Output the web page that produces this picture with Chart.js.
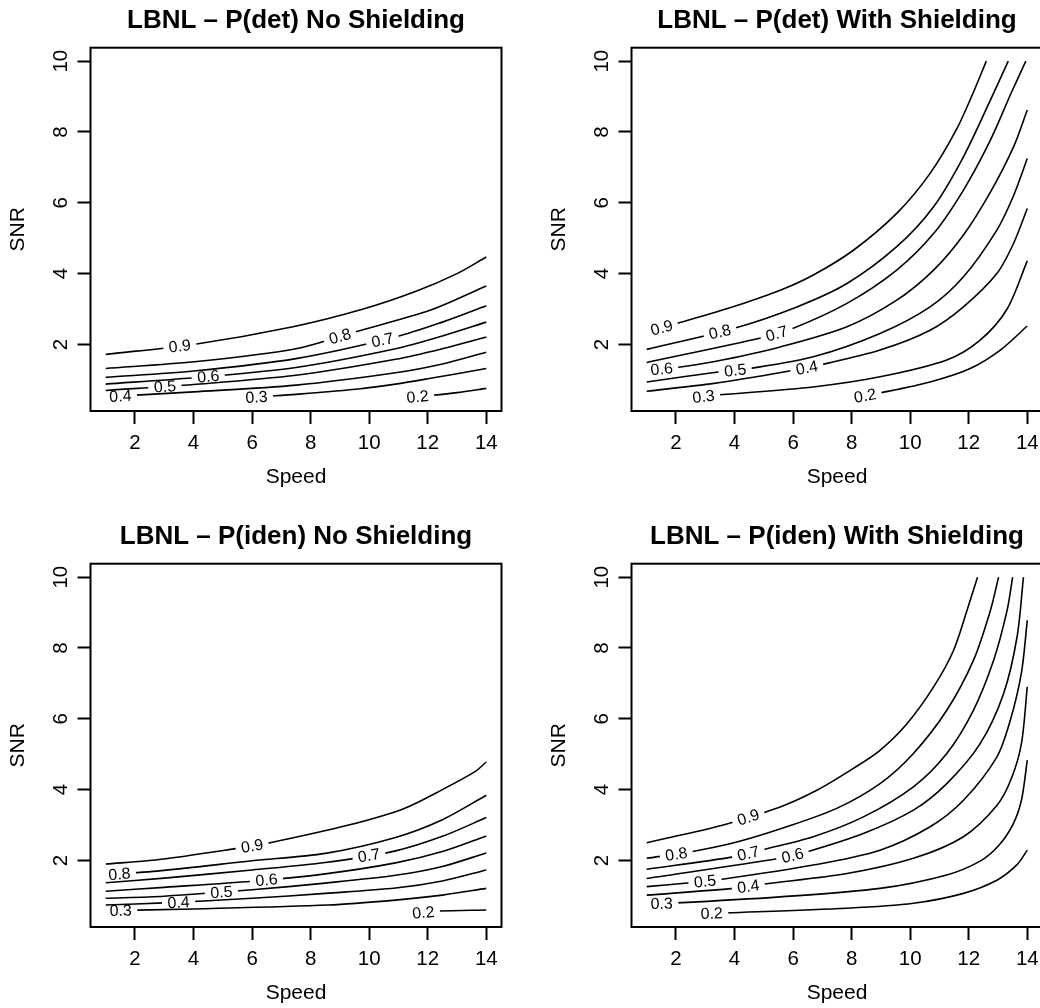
<!DOCTYPE html>
<html>
<head>
<meta charset="utf-8">
<script src="https://cdn.jsdelivr.net/npm/chart.js@4.4.0/dist/chart.umd.min.js"></script>
<style>
  html, body { margin: 0; padding: 0; background: #fff; overflow: hidden; }
  #wrap { position: relative; width: 1040px; height: 1008px; overflow: hidden; background: #fff; }
  #wrap canvas { position: absolute; }
</style>
</head>
<body>
<div id="wrap">
  <canvas id="detNo" width="541" height="516" style="left:0px;top:0px"></canvas>
  <canvas id="detWith" width="541" height="516" style="left:541px;top:0px"></canvas>
  <canvas id="idenNo" width="541" height="516" style="left:0px;top:516px"></canvas>
  <canvas id="idenWith" width="541" height="516" style="left:541px;top:516px"></canvas>
</div>

<script>
// contour levels, drawn low to high
var levels = ['0.2', '0.3', '0.4', '0.5', '0.6', '0.7', '0.8', '0.9'];
var xTicks = [2, 4, 6, 8, 10, 12, 14];
var yTicks = [2, 4, 6, 8, 10];

// each panel: one [speed, snr] list per level
var detNoLines = [
  [[11.3,0.5],[12.1,0.56],[13,0.64],[14,0.76]],
  [[5.8,0.5],[6.6,0.54],[7.5,0.59],[9.7,0.75],[10.9,0.88],[12.0,1.03],[14,1.32]],
  [[1,0.52],[4,0.66],[7.5,0.85],[10.9,1.2],[12.5,1.45],[14,1.78]],
  [[1,0.70],[4,0.87],[7.5,1.13],[10.9,1.58],[12.5,1.88],[14,2.21]],
  [[1,0.88],[4,1.06],[7.5,1.35],[10.9,1.88],[12.5,2.24],[14,2.63]],
  [[1,1.07],[4,1.25],[7.5,1.60],[10.9,2.21],[12.5,2.63],[14,3.09]],
  [[1,1.32],[4,1.51],[7.5,1.88],[9.5,2.35],[12.1,2.97],[14,3.65]],
  [[1,1.72],[4,2.0],[7.4,2.5],[9.8,3.0],[11.6,3.5],[13,4.0],[14,4.47]]
];
var detNoLabelAt = [11.65, 6.15, 1.5, 3.02, 4.5, 10.45, 9.0, 3.53];

var detWithLines = [
  [[8.1,0.5],[8.97,0.63],[10.68,0.94],[12.05,1.32],[13.08,1.84],[14,2.52]],
  [[2.6,0.5],[3.39,0.57],[6.69,0.80],[8.97,1.085],[11.25,1.56],[12.39,2.12],[13.31,3.0],[14,4.36]],
  [[1,0.68],[3.3,0.9],[6.01,1.27],[6.92,1.42],[8.97,1.84],[10.68,2.40],[11.82,3.06],[12.96,4.0],[13.53,4.85],[14,5.84]],
  [[1,0.94],[3.5,1.23],[4.53,1.32],[6.69,1.65],[8.97,2.31],[10.68,3.06],[11.82,3.91],[12.96,5.23],[13.53,6.2],[14,7.25]],
  [[1,1.27],[2.02,1.35],[3.28,1.51],[5.56,1.93],[7.84,2.50],[9.54,3.25],[10.8,4.10],[11.82,5.09],[12.74,6.3],[13.53,7.58],[14,8.62]],
  [[1,1.49],[4.93,2.19],[5.90,2.42],[7.84,3.16],[9.54,4.10],[10.8,5.13],[11.82,6.36],[12.74,7.77],[13.45,9.1],[13.95,10.0]],
  [[1,1.86],[3.96,2.45],[6.13,3.06],[7.84,3.72],[9.54,4.76],[10.8,5.89],[11.82,7.30],[12.74,8.90],[13.35,10.0]],
  [[1,2.36],[2.02,2.59],[3.79,3.02],[5.56,3.53],[6.69,3.96],[8.06,4.66],[9.54,5.70],[10.68,6.83],[11.6,8.1],[12.2,9.2],[12.6,10.0]]
];
var detWithLabelAt = [8.46, 2.94, 6.47, 4.02, 1.51, 5.44, 3.50, 1.51];

var idenNoLines = [
  [[11.45,0.5],[12.4,0.57],[14,0.6]],
  [[1,0.58],[4,0.63],[8.6,0.74],[10.9,0.88],[12.5,1.02],[14,1.21]],
  [[1,0.74],[3,0.8],[6,0.93],[8.5,1.07],[10.9,1.22],[12.5,1.42],[14,1.73]],
  [[1,0.93],[3,0.99],[6,1.17],[8.5,1.36],[10.9,1.58],[12.5,1.83],[14,2.21]],
  [[1,1.13],[3,1.24],[6,1.41],[8.5,1.62],[10.9,1.93],[12.5,2.25],[14,2.69]],
  [[1,1.37],[3,1.5],[6,1.73],[8.5,1.94],[10.9,2.27],[12.5,2.68],[14,3.21]],
  [[1,1.59],[3,1.72],[6,1.99],[8.5,2.2],[10.9,2.65],[12.5,3.15],[14,3.84]],
  [[1,1.90],[2.7,2.01],[5.5,2.34],[6.5,2.48],[9.3,3.0],[11.2,3.47],[12.5,4.0],[13.6,4.5],[14,4.78]]
];
var idenNoLabelAt = [11.85, 1.51, 3.49, 4.95, 6.49, 9.99, 1.47, 6.0];

var idenWithLines = [
  [[2.9,0.5],[3.73,0.52],[7.84,0.65],[10.11,0.79],[11.82,1.07],[12.96,1.44],[13.65,1.88],[14,2.29]],
  [[1,0.78],[2.02,0.80],[5.56,0.97],[8.97,1.21],[11.25,1.59],[12.39,1.98],[13.0,2.4],[13.5,3.0],[13.8,3.7],[14,4.83]],
  [[1,1.02],[3.96,1.21],[4.99,1.33],[7.84,1.63],[10.11,2.06],[11.82,2.67],[12.96,3.55],[13.45,4.3],[13.8,5.3],[14,6.90]],
  [[1,1.26],[2.48,1.37],[3.5,1.46],[6.69,1.87],[8.97,2.29],[10.68,2.95],[11.82,3.70],[12.96,4.92],[13.4,5.9],[13.8,7.3],[14,8.78]],
  [[1,1.49],[5.56,2.06],[6.47,2.24],[8.40,2.76],[10.11,3.42],[11.25,4.17],[12.39,5.30],[13.19,6.71],[13.65,8.31],[13.87,10.0]],
  [[1,1.75],[3.96,2.10],[4.99,2.31],[6.69,2.67],[8.40,3.23],[10.11,4.08],[11.25,5.02],[12.16,6.24],[12.85,7.65],[13.31,9.06],[13.5,10.0]],
  [[1,2.06],[2.48,2.24],[4.08,2.52],[5.78,2.95],[7.49,3.47],[8.97,4.17],[10.11,5.02],[11.25,6.24],[12.16,7.65],[12.74,9.06],[13.02,10.0]],
  [[1,2.50],[3.62,3.0],[5.56,3.51],[6.81,3.98],[8.06,4.60],[8.97,5.11],[9.89,5.86],[10.8,6.90],[11.48,7.93],[11.94,9.06],[12.3,10.0]]
];
var idenWithLabelAt = [3.22, 1.51, 4.47, 2.99, 5.98, 4.47, 2.01, 4.47];

var FONT = '"Liberation Sans", Arial, Helvetica, sans-serif';
Chart.defaults.font.family = FONT;
Chart.defaults.color = '#000';

function interp(pts, x) {
  if (x <= pts[0].x) return pts[0].y;
  for (var i = 1; i < pts.length; i++) {
    if (x <= pts[i].x) {
      var a = pts[i - 1], b = pts[i];
      return a.y + (b.y - a.y) * (x - a.x) / (b.x - a.x);
    }
  }
  return pts[pts.length - 1].y;
}

// R style: box round the plot, contour labels sitting in gaps of their line
var contourLabels = {
  id: 'contourLabels',
  beforeDatasetsDraw: function(chart) {
    var xs = chart.scales.x, ys = chart.scales.y, ctx = chart.ctx;
    var at = chart.options.plugins.contourLabels.labelAt;
    ctx.save();
    ctx.font = '16px ' + FONT;
    chart.$labs = chart.data.datasets.map(function(ds, i) {
      var lx = at[i], d = 0.25;
      var px = xs.getPixelForValue(lx), py = ys.getPixelForValue(interp(ds.data, lx));
      var dx = xs.getPixelForValue(lx + d) - xs.getPixelForValue(lx - d);
      var dy = ys.getPixelForValue(interp(ds.data, lx + d)) - ys.getPixelForValue(interp(ds.data, lx - d));
      return { text: ds.label, x: px, y: py, angle: Math.atan2(dy, dx), w: ctx.measureText(ds.label).width };
    });
    ctx.restore();
  },
  beforeDatasetDraw: function(chart, args) {
    var lab = chart.$labs && chart.$labs[args.index];
    if (!lab) return;
    var ctx = chart.ctx;
    var c = Math.cos(lab.angle), s = Math.sin(lab.angle);
    var hw = lab.w / 2 + 5.5, hh = 9;
    var corners = [[-hw, -hh], [hw, -hh], [hw, hh], [-hw, hh]].map(function(p) {
      return [lab.x + p[0] * c - p[1] * s, lab.y + p[0] * s + p[1] * c];
    });
    ctx.save();
    ctx.beginPath();
    ctx.rect(0, 0, chart.width, chart.height);
    ctx.moveTo(corners[0][0], corners[0][1]);
    for (var k = 1; k < 4; k++) ctx.lineTo(corners[k][0], corners[k][1]);
    ctx.closePath();
    ctx.clip('evenodd');
  },
  afterDatasetDraw: function(chart, args) {
    if (chart.$labs && chart.$labs[args.index]) chart.ctx.restore();
  },
  afterDatasetsDraw: function(chart) {
    var ctx = chart.ctx, a = chart.chartArea;
    ctx.save();
    ctx.strokeStyle = '#000';
    ctx.lineWidth = 2;
    ctx.strokeRect(a.left, a.top, a.right - a.left, a.bottom - a.top);
    ctx.fillStyle = '#000';
    ctx.font = '16px ' + FONT;
    ctx.textAlign = 'center';
    ctx.textBaseline = 'middle';
    chart.$labs.forEach(function(lab) {
      ctx.save();
      ctx.translate(lab.x, lab.y);
      ctx.rotate(lab.angle);
      ctx.fillText(lab.text, 0, 1);
      ctx.restore();
    });
    ctx.restore();
  }
};

function makePanel(id, title, lines, labelAt) {
  var ctx = document.getElementById(id).getContext('2d');
  return new Chart(ctx, {
    type: 'line',
    data: {
      datasets: lines.map(function(pts, i) {
        return {
          label: levels[i],
          data: pts.map(function(p) { return { x: p[0], y: p[1] }; }),
          borderColor: '#000',
          borderWidth: 1.6,
          pointRadius: 0,
          fill: false,
          tension: 0.3
        };
      })
    },
    options: {
      responsive: false,
      animation: false,
      events: [],
      layout: { padding: { left: 0, right: 39.5, top: 0, bottom: 15 } },
      plugins: {
        legend: { display: false },
        tooltip: { enabled: false },
        title: {
          display: true, text: title, fullSize: false, color: '#000',
          font: { size: 26, weight: 'bold' },
          padding: { top: 5, bottom: 11.5 }
        },
        contourLabels: { labelAt: labelAt }
      },
      scales: {
        x: {
          type: 'linear', min: 0.48, max: 14.52,
          afterBuildTicks: function(s) { s.ticks = xTicks.map(function(v) { return { value: v }; }); },
          afterFit: function(s) { s.height = 90; },
          grid: { drawOnChartArea: false, drawTicks: true, tickLength: 13, tickWidth: 2, tickColor: '#000' },
          border: { display: false },
          ticks: { color: '#000', font: { size: 20.5 }, padding: 7, maxRotation: 0, autoSkip: false },
          title: { display: true, text: 'Speed', color: '#000', font: { size: 21 }, padding: { top: 0, bottom: 11 } }
        },
        y: {
          type: 'linear', min: 0.12, max: 10.38,
          afterBuildTicks: function(s) { s.ticks = yTicks.map(function(v) { return { value: v }; }); },
          afterFit: function(s) { s.width = 90.5; },
          grid: { drawOnChartArea: false, drawTicks: true, tickLength: 13, tickWidth: 2, tickColor: '#000' },
          border: { display: false },
          ticks: { color: '#000', font: { size: 20.5 }, padding: 5, minRotation: 90, maxRotation: 90, crossAlign: 'center', autoSkip: false },
          title: { display: true, text: 'SNR', color: '#000', font: { size: 21 }, padding: { top: 5.4, bottom: 0 } }
        }
      }
    },
    plugins: [contourLabels]
  });
}

makePanel('detNo', 'LBNL \u2013 P(det) No Shielding', detNoLines, detNoLabelAt);
makePanel('detWith', 'LBNL \u2013 P(det) With Shielding', detWithLines, detWithLabelAt);
makePanel('idenNo', 'LBNL \u2013 P(iden) No Shielding', idenNoLines, idenNoLabelAt);
makePanel('idenWith', 'LBNL \u2013 P(iden) With Shielding', idenWithLines, idenWithLabelAt);
</script>
</body>
</html>
